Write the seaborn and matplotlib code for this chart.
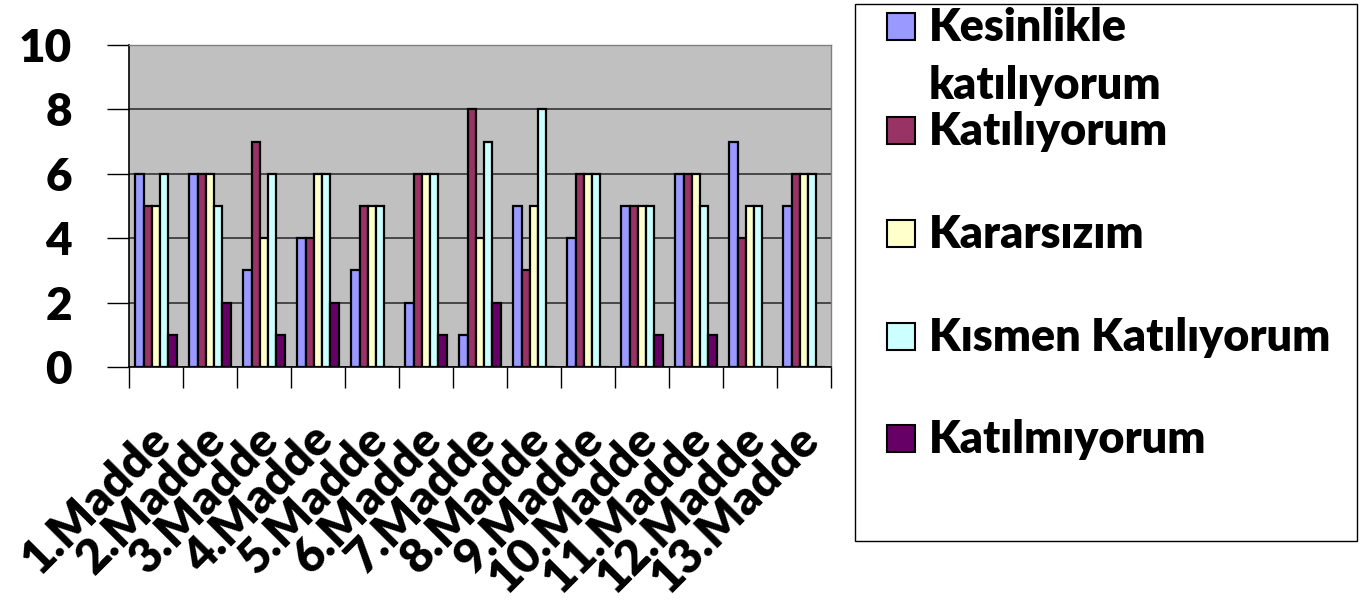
import matplotlib
matplotlib.use("Agg")
import matplotlib.pyplot as plt
import matplotlib.transforms as mtransforms
from matplotlib.patches import Rectangle
import numpy as np
import pandas as pd
import seaborn as sns

# Survey answers per item
items = [f"{i}.Madde" for i in range(1, 14)]
kesinlikle_katiliyorum = [6, 6, 3, 4, 3, 2, 1, 5, 4, 5, 6, 7, 5]
katiliyorum = [5, 6, 7, 4, 5, 6, 8, 3, 6, 5, 6, 4, 6]
kararsizim = [5, 6, 4, 6, 5, 6, 4, 5, 6, 5, 6, 5, 6]
kismen_katiliyorum = [6, 5, 6, 6, 5, 6, 7, 8, 6, 5, 5, 5, 6]
katilmiyorum = [1, 2, 1, 2, 0, 1, 2, 0, 0, 1, 1, 0, 0]

series_names = ["Kesinlikle katılıyorum", "Katılıyorum", "Kararsızım",
                "Kısmen Katılıyorum", "Katılmıyorum"]
legend_lines = [["Kesinlikle", "katılıyorum"], ["Katılıyorum"], ["Kararsızım"],
                ["Kısmen Katılıyorum"], ["Katılmıyorum"]]
y_ticks = [0, 2, 4, 6, 8, 10]

colors = ["#9999FF", "#993366", "#FFFFCC", "#CCFFFF", "#660066"]

series_values = [kesinlikle_katiliyorum, katiliyorum, kararsizim,
                 kismen_katiliyorum, katilmiyorum]
df = pd.DataFrame(
    [(item, name, vals[i])
     for name, vals in zip(series_names, series_values)
     for i, item in enumerate(items)],
    columns=["Madde", "Seri", "Değer"],
)

sns.set_theme(style="white")
plt.rcParams["font.family"] = ["Lato", "DejaVu Sans"]
plt.rcParams["font.weight"] = "bold"

W, H = 1371, 605
fig = plt.figure(figsize=(W / 100, H / 100), dpi=100)
fig.patch.set_facecolor("white")


def fx(px):
    return px / W


def fy(py):
    return 1 - py / H


ax_l, ax_r, ax_t, ax_b = 129, 831, 45, 367
ax = fig.add_axes([fx(ax_l), fy(ax_b), fx(ax_r - ax_l), (ax_b - ax_t) / H])

sns.barplot(data=df, x="Madde", y="Değer", hue="Seri", hue_order=series_names,
            order=items, palette=colors, width=0.76, edgecolor="black",
            linewidth=1.6, saturation=1, ax=ax, legend=False)

ax.set_facecolor("#C0C0C0")
ax.set_xlim(-0.5, len(items) - 0.5)
ax.set_ylim(0, 10)
ax.set_xlabel("")
ax.set_ylabel("")

ax.set_axisbelow(True)
ax.yaxis.grid(True, color="#333333", linewidth=1.2)
ax.xaxis.grid(False)

for side in ["top", "right"]:
    ax.spines[side].set_color("#808080")
    ax.spines[side].set_linewidth(1)
for side in ["left", "bottom"]:
    ax.spines[side].set_color("black")
    ax.spines[side].set_linewidth(1.2)

ax.set_yticks(y_ticks)
ax.set_yticklabels([str(v) for v in y_ticks])
ax.tick_params(axis="y", which="major", length=16, width=1, color="black",
               direction="out", pad=25, labelsize=33, left=True)

ax.set_xticks(np.arange(len(items)))
ax.set_xticks(np.arange(-0.5, len(items), 1), minor=True)
ax.tick_params(axis="x", which="major", length=0, pad=36, labelsize=34)
ax.tick_params(axis="x", which="minor", length=15, width=1, color="black",
               direction="out", bottom=True)
ax.set_xticklabels(items, rotation=45, ha="right", va="top",
                   rotation_mode="anchor")
offset = mtransforms.ScaledTranslation(-8 / 100, 0, fig.dpi_scale_trans)
for lbl in ax.get_xticklabels():
    lbl.set_transform(lbl.get_transform() + offset)
for lbl in ax.get_xticklabels() + ax.get_yticklabels():
    lbl.set_fontweight("heavy")
    lbl.set_color("black")

# Legend panel
fig.add_artist(Rectangle((fx(855), fy(541)), fx(1357 - 855), (541 - 4) / H,
                         transform=fig.transFigure, facecolor="white",
                         edgecolor="black", linewidth=1))
entry_tops = [13, 117, 220, 323, 425]
line_step = 58
for lines, color, top in zip(legend_lines, colors, entry_tops):
    fig.add_artist(Rectangle((fx(887), fy(top + 27)), fx(28), 27 / H,
                             transform=fig.transFigure, facecolor=color,
                             edgecolor="black", linewidth=1.5))
    for k, line in enumerate(lines):
        fig.text(fx(929), fy(top + 28 + k * line_step), line, ha="left",
                 va="baseline", fontsize=32.3, fontweight="heavy",
                 color="black")

fig.savefig("out.png", dpi=100)
